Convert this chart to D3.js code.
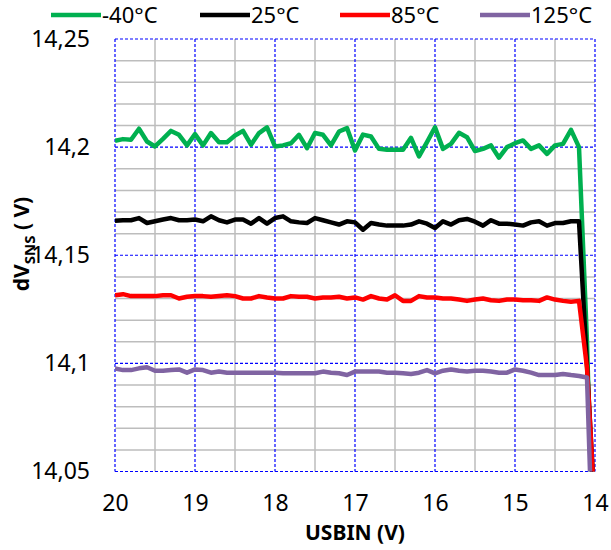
<!DOCTYPE html>
<html>
<head>
<meta charset="utf-8">
<script src="https://cdn.jsdelivr.net/npm/d3@7"></script>
<style>
  body { margin: 0; background: #fff; }
  text { font-family: "Noto Sans", "Open Sans", sans-serif; fill: #000; }
</style>
</head>
<body>
<script>
// USBIN sweep (V), high to low
const usbin = [
  20.0, 19.9, 19.8, 19.7, 19.6, 19.5, 19.4, 19.3, 19.2, 19.1,
  19.0, 18.9, 18.8, 18.7, 18.6, 18.5, 18.4, 18.3, 18.2, 18.1,
  18.0, 17.9, 17.8, 17.7, 17.6, 17.5, 17.4, 17.3, 17.2, 17.1,
  17.0, 16.9, 16.8, 16.7, 16.6, 16.5, 16.4, 16.3, 16.2, 16.1,
  16.0, 15.9, 15.8, 15.7, 15.6, 15.5, 15.4, 15.3, 15.2, 15.1,
  15.0, 14.9, 14.8, 14.7, 14.6, 14.5, 14.4, 14.3, 14.2, 14.1,
  14.0
];

const vMinus40 = [
  14.2029, 14.2037, 14.2034, 14.2085, 14.2026, 14.2003, 14.2038, 14.2075, 14.2057, 14.2008,
  14.2060, 14.2008, 14.2065, 14.2023, 14.2023, 14.2054, 14.2075, 14.2011, 14.2065, 14.2091,
  14.2003, 14.2008, 14.2018, 14.2057, 14.1995, 14.2065, 14.2057, 14.2008, 14.2072, 14.2088,
  14.1985, 14.2058, 14.2049, 14.1992, 14.1988, 14.1988, 14.1988, 14.2043, 14.1957, 14.2023,
  14.2092, 14.1992, 14.2015, 14.2066, 14.2046, 14.1982, 14.1992, 14.2008, 14.1951, 14.2000,
  14.2018, 14.2031, 14.1992, 14.2008, 14.1969, 14.2008, 14.2015, 14.2080, 14.2000, 14.1100,
  13.9800
];

const v25 = [
  14.1660, 14.1662, 14.1662, 14.1672, 14.1649, 14.1657, 14.1665, 14.1672, 14.1662, 14.1662,
  14.1665, 14.1657, 14.1680, 14.1662, 14.1652, 14.1665, 14.1665, 14.1646, 14.1672, 14.1646,
  14.1672, 14.1680, 14.1657, 14.1652, 14.1649, 14.1672, 14.1662, 14.1652, 14.1642, 14.1657,
  14.1652, 14.1618, 14.1649, 14.1642, 14.1637, 14.1637, 14.1637, 14.1642, 14.1657, 14.1646,
  14.1626, 14.1657, 14.1642, 14.1662, 14.1668, 14.1655, 14.1637, 14.1662, 14.1646, 14.1646,
  14.1642, 14.1637, 14.1652, 14.1657, 14.1637, 14.1649, 14.1649, 14.1657, 14.1657, 14.0990,
  14.0300
];

const v85 = [
  14.1315, 14.1320, 14.1311, 14.1311, 14.1311, 14.1311, 14.1315, 14.1315, 14.1300, 14.1308,
  14.1312, 14.1311, 14.1308, 14.1312, 14.1315, 14.1311, 14.1300, 14.1300, 14.1311, 14.1305,
  14.1300, 14.1300, 14.1311, 14.1308, 14.1308, 14.1300, 14.1305, 14.1305, 14.1308, 14.1300,
  14.1305, 14.1295, 14.1311, 14.1300, 14.1295, 14.1315, 14.1289, 14.1289, 14.1311, 14.1305,
  14.1305, 14.1300, 14.1300, 14.1295, 14.1289, 14.1295, 14.1300, 14.1292, 14.1289, 14.1295,
  14.1295, 14.1292, 14.1292, 14.1289, 14.1305, 14.1295, 14.1289, 14.1285, 14.1289, 14.0980,
  14.0300
];

const v125 = [
  14.0977, 14.0969, 14.0969, 14.0977, 14.0982, 14.0966, 14.0966, 14.0969, 14.0972, 14.0957,
  14.0972, 14.0969, 14.0957, 14.0962, 14.0957, 14.0957, 14.0957, 14.0957, 14.0957, 14.0957,
  14.0957, 14.0954, 14.0954, 14.0954, 14.0954, 14.0954, 14.0962, 14.0957, 14.0954, 14.0946,
  14.0962, 14.0962, 14.0962, 14.0962, 14.0957, 14.0957, 14.0954, 14.0951, 14.0957, 14.0969,
  14.0954, 14.0966, 14.0972, 14.0966, 14.0962, 14.0966, 14.0966, 14.0962, 14.0957, 14.0957,
  14.0972, 14.0966, 14.0957, 14.0946, 14.0946, 14.0946, 14.0951, 14.0946, 14.0942, 14.0935,
  13.9770
];

const seriesNames = ["-40°C", "25°C", "85°C", "125°C"];
const seriesColors = ["#00b050", "#000000", "#ff0000", "#8064a2"];
const seriesValues = [vMinus40, v25, v85, v125];

const xTicks = [20, 19, 18, 17, 16, 15, 14];
const yTicks = [14.05, 14.1, 14.15, 14.2, 14.25];
const xMinor = [19.5, 18.5, 17.5, 16.5, 15.5, 14.5];
const yMinor = [14.06, 14.07, 14.08, 14.09, 14.11, 14.12, 14.13, 14.14,
                14.16, 14.17, 14.18, 14.19, 14.21, 14.22, 14.23, 14.24];

const W = 611, H = 550;
const plotLeft = 115, plotRight = 595, plotTop = 39, plotBottom = 471.5;

const svg = d3.select("body").append("svg")
  .attr("width", W)
  .attr("height", H);

svg.append("rect").attr("width", W).attr("height", H).attr("fill", "#fff");

const x = d3.scaleLinear().domain([20, 14]).range([plotLeft, plotRight]);
const y = d3.scaleLinear().domain([14.05, 14.25]).range([plotBottom, plotTop]);

// grid lines
const grid = svg.append("g");
const vGrid = (vals, color, width, dash) => grid.selectAll(null)
  .data(vals).enter().append("line")
  .attr("x1", d => x(d)).attr("x2", d => x(d))
  .attr("y1", plotTop).attr("y2", plotBottom)
  .attr("stroke", color).attr("stroke-width", width)
  .attr("stroke-dasharray", dash);
const hGrid = (vals, color, width, dash) => grid.selectAll(null)
  .data(vals).enter().append("line")
  .attr("x1", plotLeft).attr("x2", plotRight)
  .attr("y1", d => y(d)).attr("y2", d => y(d))
  .attr("stroke", color).attr("stroke-width", width)
  .attr("stroke-dasharray", dash);

vGrid(xMinor, "#bdbdbd", 1.5, null);
hGrid(yMinor, "#bdbdbd", 1.5, null);
vGrid(xTicks, "#0000ff", 1.2, "3,2");
hGrid(yTicks, "#0000ff", 1.2, "3,2");

// series
svg.append("clipPath").attr("id", "plot")
  .append("rect")
  .attr("x", plotLeft).attr("y", plotTop)
  .attr("width", plotRight - plotLeft).attr("height", plotBottom - plotTop);

const line = d3.line()
  .x((d, i) => x(usbin[i]))
  .y(d => y(d));

const lines = svg.append("g").attr("clip-path", "url(#plot)");
seriesValues.forEach((vals, k) => {
  lines.append("path")
    .datum(vals)
    .attr("d", line)
    .attr("fill", "none")
    .attr("stroke", seriesColors[k])
    .attr("stroke-width", 4.5)
    .attr("stroke-linejoin", "round");
});

// y axis labels
const yAxis = svg.append("g")
  .attr("transform", `translate(${plotLeft},0)`)
  .call(d3.axisLeft(y)
    .tickValues(yTicks)
    .tickSize(0)
    .tickPadding(25)
    .tickFormat(d => d3.format(".2~f")(d).replace(".", ",")));
yAxis.select(".domain").remove();
yAxis.selectAll("text")
  .style("font-size", "23px")
  .style("font-family", "'Noto Sans', sans-serif")
  .attr("fill", "#000");

// x axis labels
const xAxis = svg.append("g")
  .attr("transform", `translate(0,${plotBottom})`)
  .call(d3.axisBottom(x)
    .tickValues(xTicks)
    .tickSize(0)
    .tickPadding(23)
    .tickFormat(d3.format("d")));
xAxis.select(".domain").remove();
xAxis.selectAll("text")
  .style("font-size", "23px")
  .style("font-family", "'Noto Sans', sans-serif")
  .attr("fill", "#000");

// axis titles
svg.append("text")
  .attr("x", 355)
  .attr("y", 540)
  .attr("text-anchor", "middle")
  .style("font-size", "21px")
  .style("font-weight", "bold")
  .text("USBIN (V)");

const yt = svg.append("text")
  .attr("transform", `translate(29,244) rotate(-90)`)
  .attr("text-anchor", "middle")
  .style("font-size", "21px")
  .style("font-weight", "bold");
yt.append("tspan").text("dV");
yt.append("tspan").attr("dy", 6).style("font-size", "15px").text("SNS");
yt.append("tspan").attr("dy", -6).text(" ( V)");

// legend
const legendX = [51, 200, 340, 480];
const legend = svg.append("g");
seriesNames.forEach((name, k) => {
  legend.append("line")
    .attr("x1", legendX[k]).attr("x2", legendX[k] + 50)
    .attr("y1", 15).attr("y2", 15)
    .attr("stroke", seriesColors[k])
    .attr("stroke-width", 4.5);
  legend.append("text")
    .attr("x", legendX[k] + 51)
    .attr("y", 23)
    .style("font-size", "22px")
    .text(name);
});
</script>
</body>
</html>
